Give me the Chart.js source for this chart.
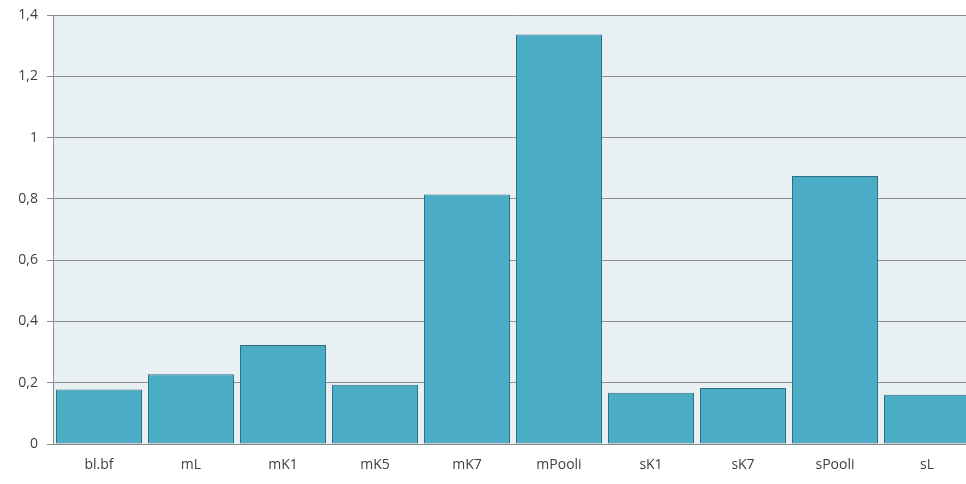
<!DOCTYPE html>
<html><head><meta charset="utf-8">
<script src="https://cdn.jsdelivr.net/npm/chart.js@4/dist/chart.umd.min.js"></script>
<style>html,body{margin:0;padding:0;background:#fff;overflow:hidden}#wrap{width:966px;height:484px;overflow:hidden}</style>
</head><body><div id="wrap"><canvas id="c" width="973" height="484"></canvas></div>
<script>
const categories = ["bl.bf","mL","mK1","mK5","mK7","mPooli","sK1","sK7","sPooli","sL"];
const values = [0.178, 0.228, 0.323, 0.193, 0.814, 1.336, 0.167, 0.183, 0.875, 0.161];
const yTicks = [0, 0.2, 0.4, 0.6, 0.8, 1, 1.2, 1.4];

const bgPlugin = {
  id: 'bgPlugin',
  beforeDraw(chart) {
    const {ctx, chartArea: a} = chart;
    ctx.save();
    ctx.fillStyle = '#e9f0f4';
    ctx.fillRect(a.left, a.top, a.right - a.left, a.bottom - a.top);
    ctx.restore();
  }
};

new Chart(document.getElementById('c'), {
  type: 'bar',
  data: {
    labels: categories,
    datasets: [{
      data: values,
      backgroundColor: '#4bacc6',
      borderColor: '#2f6f82',
      borderWidth: 1,
      borderSkipped: false,
      barPercentage: 0.935,
      categoryPercentage: 1.0
    }]
  },
  options: {
    responsive: false,
    animation: false,
    layout: { autoPadding: false, padding: { top: 15, right: 0, left: 0, bottom: 0 } },
    plugins: { legend: { display: false }, tooltip: { enabled: false } },
    scales: {
      x: {
        grid: { display: false, drawTicks: false },
        border: { display: true, color: '#8c8c8c', width: 1 },
        ticks: { color: '#404040', font: { family: 'Open Sans', size: 14 }, padding: 13 },
        afterFit(s) { s.height = 40; s.paddingLeft = 0; s.paddingRight = 0; }
      },
      y: {
        min: 0, max: 1.4,
        afterBuildTicks(s) { s.ticks = yTicks.map(v => ({ value: v })); },
        grid: { color: '#8c8c8c', lineWidth: 1, tickLength: 6, drawTicks: true },
        border: { display: true, color: '#8c8c8c', width: 1 },
        ticks: {
          color: '#404040', font: { family: 'Open Sans', size: 14 }, padding: 9,
          callback: v => String(+v.toFixed(1)).replace('.', ',')
        },
        afterFit(s) { s.width = 53; s.paddingTop = 0; s.paddingBottom = 0; }
      }
    }
  },
  plugins: [bgPlugin]
});
</script>
</body></html>
